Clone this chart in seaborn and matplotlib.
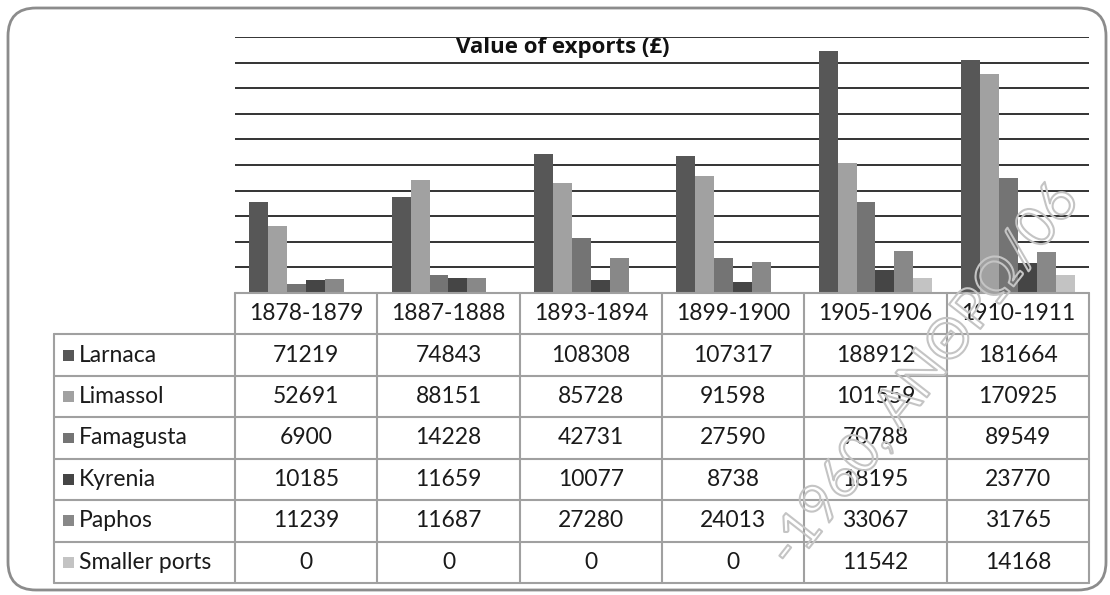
import matplotlib
matplotlib.use("Agg")
import matplotlib.pyplot as plt
import matplotlib.patheffects as pe
from matplotlib.patches import FancyBboxPatch, Rectangle
import seaborn as sns
import pandas as pd

# данные (экспорт по портам, фунты)
periods = ["1878-1879", "1887-1888", "1893-1894", "1899-1900", "1905-1906", "1910-1911"]
ports = ["Larnaca", "Limassol", "Famagusta", "Kyrenia", "Paphos", "Smaller ports"]
larnaca = [71219, 74843, 108308, 107317, 188912, 181664]
limassol = [52691, 88151, 85728, 91598, 101559, 170925]
famagusta = [6900, 14228, 42731, 27590, 70788, 89549]
kyrenia = [10185, 11659, 10077, 8738, 18195, 23770]
paphos = [11239, 11687, 27280, 24013, 33067, 31765]
smaller = [0, 0, 0, 0, 11542, 14168]
colors = ["#575757", "#a1a1a1", "#747474", "#454545", "#888888", "#c3c3c3"]
title = "Value of exports (£)"

series = [larnaca, limassol, famagusta, kyrenia, paphos, smaller]
df = pd.DataFrame({
    "period": [p for s in series for p in periods],
    "port": [ports[i] for i, s in enumerate(series) for _ in s],
    "value": [v for s in series for v in s],
})

sns.set_style("white")
plt.rcParams["font.family"] = ["Lato", "DejaVu Sans"]

W, H = 1110, 595
fig = plt.figure(figsize=(W / 100, H / 100), dpi=100)

def box(x0, y0, x1, y1):
    # пиксели (сверху) -> координаты фигуры
    return [x0 / W, 1 - y1 / H, (x1 - x0) / W, (y1 - y0) / H]

# график
ax = fig.add_axes(box(235, 37, 1089, 293))
for y in range(20000, 200001, 20000):
    ax.axhline(y, color="#333333", lw=1.4, zorder=0)
sns.barplot(data=df, x="period", y="value", hue="port", order=periods, hue_order=ports,
            palette=colors, width=0.8, linewidth=0, saturation=1, legend=False, ax=ax)
ax.set_xlim(-0.5, len(periods) - 0.5)
ax.set_ylim(0, 200000)
ax.set_xticks([])
ax.set_yticks([])
ax.set_xlabel("")
ax.set_ylabel("")
for sp in ax.spines.values():
    sp.set_visible(False)

fig.text(563 / W, 1 - 53 / H, title, ha="center", va="baseline",
         fontsize=16, fontweight="bold", color="#111111", family=["Open Sans", "DejaVu Sans"])

# таблица данных
lab_w = 181 / 142.33
tx = fig.add_axes(box(54, 293, 1089, 583))
tx.set_xlim(-0.5 - lab_w, len(periods) - 0.5)
tx.set_ylim(len(ports) + 1, 0)
tx.axis("off")
lc = "#a0a0a0"
tx.plot([-0.5, len(periods) - 0.5], [0, 0], color=lc, lw=1.5, clip_on=False)
for r in range(1, len(ports) + 2):
    tx.plot([-0.5 - lab_w, len(periods) - 0.5], [r, r], color=lc, lw=1.5, clip_on=False)
tx.plot([-0.5 - lab_w] * 2, [1, len(ports) + 1], color=lc, lw=1.5, clip_on=False)
for c in range(len(periods) + 1):
    tx.plot([c - 0.5] * 2, [0, len(ports) + 1], color=lc, lw=1.5, clip_on=False)

fs = 16.5
for c, p in enumerate(periods):
    tx.text(c, 0.5, p, ha="center", va="center", fontsize=fs, color="#1a1a1a")
for r, (name, s, col) in enumerate(zip(ports, series, colors)):
    yc = r + 1.5
    tx.add_patch(Rectangle((-0.5 - lab_w + 0.065, yc - 0.13), 0.075, 0.26,
                           color=col, lw=0, clip_on=False))
    tx.text(-0.5 - lab_w + 0.175, yc, name, ha="left", va="center", fontsize=fs, color="#1a1a1a")
    for c, v in enumerate(s):
        tx.text(c, yc, str(v), ha="center", va="center", fontsize=fs, color="#1a1a1a")

# водяной знак
fig.text(792 / W, 1 - 570 / H, "-1960, ΑΝΘΡΩ/06", rotation=52, rotation_mode="anchor",
         ha="left", va="baseline", fontsize=40, color=(1, 1, 1, 0),
         path_effects=[pe.Stroke(linewidth=1.5, foreground="#c4c4c4")], zorder=10)

# рамка
fig.patches.append(FancyBboxPatch((8, 5), 1098, 582, boxstyle="round,pad=0,rounding_size=28",
                                  transform=None, fill=False, edgecolor="#8c8c8c", lw=2))

plt.savefig("out.png", dpi=100)
